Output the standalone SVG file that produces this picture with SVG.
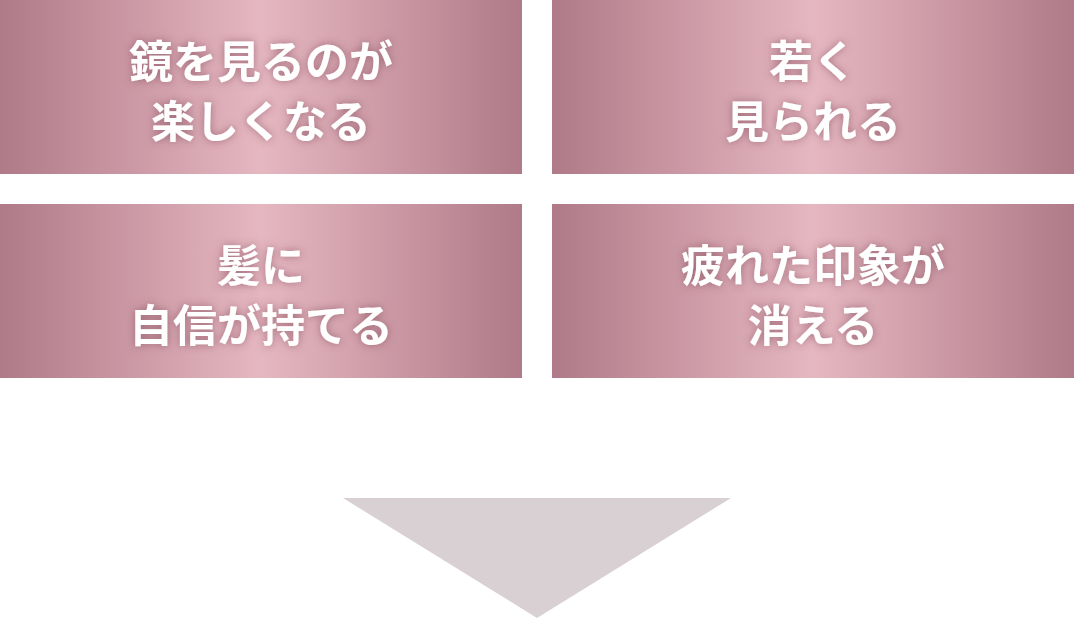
<svg xmlns="http://www.w3.org/2000/svg" width="1074" height="618" viewBox="0 0 1074 618">
<style>
.t{font-family:"Noto Sans CJK JP","Noto Sans CJK SC",sans-serif;font-weight:700;font-size:44px;fill:#fff;text-anchor:middle;filter:url(#sh)}
</style>
<defs>
<linearGradient id="g" x1="0" y1="0" x2="1" y2="0">
<stop offset="0" stop-color="#b07a88"/>
<stop offset="0.5" stop-color="#e5b7c1"/>
<stop offset="1" stop-color="#b07a88"/>
</linearGradient>
<filter id="sh" x="-10%" y="-30%" width="120%" height="160%">
<feDropShadow dx="0" dy="0" stdDeviation="4" flood-color="#7a4050" flood-opacity="0.6"/>
</filter>
</defs>
<g id="n1"><rect x="0" y="0" width="522" height="174" fill="url(#g)"/>
<text class="t" x="261" y="78">鏡を見るのが</text><text class="t" x="261" y="138">楽しくなる</text></g>
<g id="n2"><rect x="552" y="0" width="522" height="174" fill="url(#g)"/>
<text class="t" x="813" y="78">若く</text><text class="t" x="813" y="138">見られる</text></g>
<g id="n3"><rect x="0" y="204" width="522" height="174" fill="url(#g)"/>
<text class="t" x="261" y="282">髪に</text><text class="t" x="261" y="342">自信が持てる</text></g>
<g id="n4"><rect x="552" y="204" width="522" height="174" fill="url(#g)"/>
<text class="t" x="813" y="282">疲れた印象が</text><text class="t" x="813" y="342">消える</text></g>
<g id="connectors"><polygon points="343,498 731,498 537,618" fill="#d8d0d3"/></g>
</svg>
